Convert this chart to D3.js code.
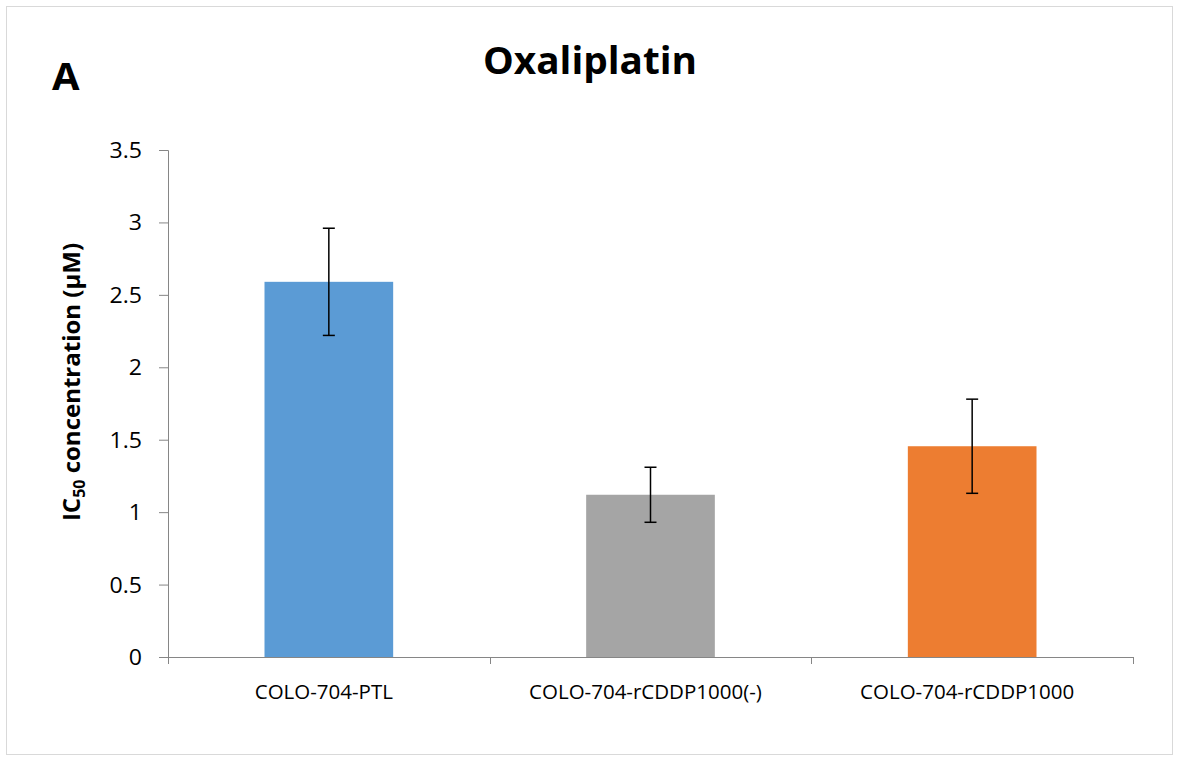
<!DOCTYPE html>
<html>
<head>
<meta charset="utf-8">
<script src="https://cdn.jsdelivr.net/npm/d3@7"></script>
<style>
  html, body { margin: 0; padding: 0; background: #fff; }
  svg { display: block; }
  text { font-family: "Open Sans", "Noto Sans", sans-serif; fill: #000; }
</style>
</head>
<body>
<svg id="chart" width="1179" height="760"></svg>
<script>
// Oxaliplatin IC50 per cell line, mean ± SD
const categories = ["COLO-704-PTL", "COLO-704-rCDDP1000(-)", "COLO-704-rCDDP1000"];
const values = [2.59, 1.12, 1.455];
const errors = [0.37, 0.19, 0.325];
const colors = ["#5B9BD5", "#A5A5A5", "#ED7D31"];
const yTicks = [0, 0.5, 1, 1.5, 2, 2.5, 3, 3.5];
const yTickLabels = ["0", "0.5", "1", "1.5", "2", "2.5", "3", "3.5"];

const svg = d3.select("#chart");
const plot = { left: 168, right: 1133, top: 150, bottom: 657 };
const axisColor = "#868686";

// text with a slight horizontal stretch around its anchor point
function wideText(parent, x, y, sx, anchor) {
  return parent.append("text")
    .attr("transform", `translate(${x},${y}) scale(${sx},1)`)
    .attr("text-anchor", anchor);
}

// chart frame
svg.append("rect")
  .attr("x", 6.5).attr("y", 6.5)
  .attr("width", 1166).attr("height", 748)
  .attr("fill", "#fff").attr("stroke", "#d9d9d9").attr("stroke-width", 1);

const x = d3.scaleBand()
  .domain(categories)
  .range([plot.left, plot.right])
  .paddingInner(0.6).paddingOuter(0.3);

const y = d3.scaleLinear().domain([0, 3.5]).range([plot.bottom, plot.top]);

// bars
svg.append("g").selectAll("rect")
  .data(categories)
  .join("rect")
  .attr("x", d => x(d))
  .attr("width", x.bandwidth())
  .attr("y", (d, i) => y(values[i]))
  .attr("height", (d, i) => y(0) - y(values[i]))
  .attr("fill", (d, i) => colors[i]);

// y axis line and ticks
const yAxis = d3.axisLeft(y).tickValues(yTicks).tickFormat("").tickSize(9);
const gy = svg.append("g").attr("transform", `translate(${plot.left},0)`).call(yAxis);
gy.select(".domain").attr("stroke", axisColor);
gy.selectAll(".tick line").attr("stroke", axisColor);

// y tick labels
const gyl = svg.append("g");
yTicks.forEach((t, i) => {
  wideText(gyl, 142, y(t) + 8, 1.1, "end")
    .style("font-size", "21px")
    .text(yTickLabels[i]);
});

// x axis: category boundary ticks
const gx = svg.append("g");
gx.append("line")
  .attr("x1", plot.left).attr("x2", plot.right)
  .attr("y1", plot.bottom + 0.5).attr("y2", plot.bottom + 0.5)
  .attr("stroke", axisColor);
const boundaries = d3.range(categories.length + 1)
  .map(i => plot.left + i * (plot.right - plot.left) / categories.length);
gx.selectAll("line.tk")
  .data(boundaries)
  .join("line")
  .attr("class", "tk")
  .attr("x1", d => Math.round(d) + 0.5).attr("x2", d => Math.round(d) + 0.5)
  .attr("y1", plot.bottom).attr("y2", plot.bottom + 7)
  .attr("stroke", axisColor);
categories.forEach(c => {
  wideText(gx, x(c) + x.bandwidth() / 2 - 5, 699, 1.0, "middle")
    .style("font-size", "20.5px")
    .text(c);
});

// error bars
const eb = svg.append("g").attr("stroke", "#000").attr("stroke-width", 1.5);
categories.forEach((c, i) => {
  const cx = x(c) + x.bandwidth() / 2;
  const yHi = y(values[i] + errors[i]);
  const yLo = y(values[i] - errors[i]);
  eb.append("line").attr("x1", cx).attr("x2", cx).attr("y1", yHi).attr("y2", yLo);
  eb.append("line").attr("x1", cx - 6).attr("x2", cx + 6).attr("y1", yHi).attr("y2", yHi);
  eb.append("line").attr("x1", cx - 6).attr("x2", cx + 6).attr("y1", yLo).attr("y2", yLo);
});

// title and panel letter
wideText(svg, 590, 74, 1.02, "middle")
  .style("font-size", "38px").style("font-weight", "bold")
  .text("Oxaliplatin");
wideText(svg, 52, 90, 1.05, "start")
  .style("font-size", "38px").style("font-weight", "bold")
  .text("A");

// y axis title with subscript
const yt = svg.append("text")
  .attr("transform", "translate(80,382) rotate(-90)")
  .attr("text-anchor", "middle")
  .style("font-size", "24px").style("font-weight", "bold");
yt.append("tspan").text("IC");
yt.append("tspan").attr("dy", 5).style("font-size", "16px").text("50");
yt.append("tspan").attr("dy", -5).text(" concentration (μM)");
</script>
</body>
</html>
